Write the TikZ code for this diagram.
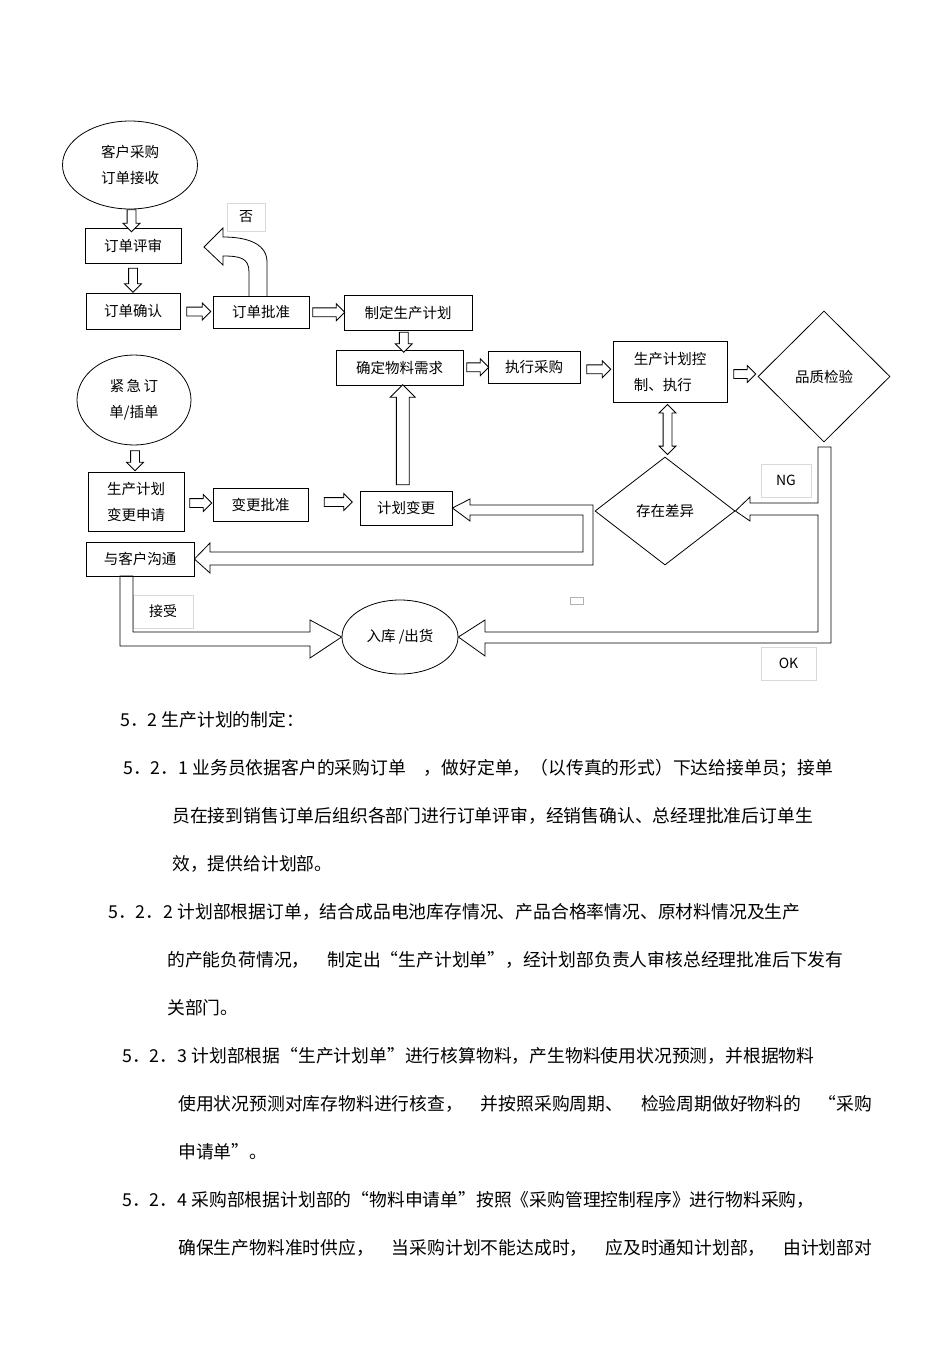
\documentclass[tikz,border=0pt]{standalone}
\usepackage{fontspec}
\newfontfamily\cjk{Noto Sans CJK SC}
\usetikzlibrary{shapes.geometric,shapes.arrows,calc}

\tikzset{
  box/.style={draw, rectangle, thick, inner sep=0pt, font=\cjk\fontsize{14.5}{26}\selectfont},
  oval/.style={draw, ellipse, thick, inner sep=0pt, align=center, font=\cjk\fontsize{14.5}{26}\selectfont},
  choice/.style={draw, diamond, thick, inner sep=0pt, font=\cjk\fontsize{14.5}{26}\selectfont},
  tag/.style={draw=black!15, rectangle, inner sep=0pt, font=\cjk\fontsize{14}{17}\selectfont},
  hollow/.style={draw, thick, fill=white, single arrow, inner sep=4pt, single arrow head extend=4pt, minimum width=0pt},
  para/.style={anchor=west, inner sep=0pt, font=\cjk\fontsize{17.8}{20}\selectfont}
}

\begin{document}
\begin{tikzpicture}[x=1pt,y=-1pt]
  \useasboundingbox (0,0) rectangle (950,1345);

  % upper branch
  \node[oval, minimum width=135, minimum height=88] (recv) at (130,165) {客户采购\\订单接收};
  \node[box, minimum width=96, minimum height=35] (review) at (133,245.5) {订单评审};
  \node[box, minimum width=94, minimum height=36] (confirm) at (133,311) {订单确认};
  \node[box, minimum width=96, minimum height=32] (approve) at (261,312) {订单批准};
  \node[box, minimum width=128, minimum height=35] (plan) at (408,312.5) {制定生产计划};
  \node[box, minimum width=127, minimum height=35] (need) at (399.5,367.5) {确定物料需求};
  \node[box, minimum width=92, minimum height=32] (buy) at (534,367) {执行采购};
  \node[box, minimum width=114, minimum height=61, align=left] (ctrl) at (670,371.5) {生产计划控\\制、执行};
  \node[choice, minimum width=132, minimum height=131] (qc) at (824,376.5) {品质检验};
  \node[choice, minimum width=140, minimum height=108] (diff) at (665,511) {存在差异};

  % lower branch
  \node[oval, minimum width=114, minimum height=90] (rush) at (134,400) {紧\,急\,订\\单/插单};
  \node[box, minimum width=96, minimum height=59, align=left] (apply) at (136,501.5) {生产计划\\变更申请};
  \node[box, minimum width=95, minimum height=33] (okchg) at (260.5,504.5) {变更批准};
  \node[box, minimum width=92, minimum height=34] (chg) at (406,508) {计划变更};
  \node[box, minimum width=108, minimum height=34] (talk) at (140,559) {与客户沟通};
  \node[oval, minimum width=116, minimum height=74] (store) at (400,637) {入库 /出货};

  % labels
  \node[tag, minimum width=38, minimum height=28] (no) at (246,217) {否};
  \node[tag, minimum width=50, minimum height=33] (ng) at (786,480.5) {NG};
  \node[tag, minimum width=55, minimum height=33] (ok) at (788.5,663.5) {OK};
  \node[tag, minimum width=60, minimum height=33] (take) at (163,611.5) {接受};
  \node[draw=black!30, minimum width=13, minimum height=7, inner sep=0pt] (dot) at (576.5,600.5) {};

  % straight arrows
  \node[hollow, rotate=-90, minimum height=22] (a1) at ($(recv.south)!0.5!(review.north)$) {};
  \node[hollow, rotate=-90, minimum height=24] (a2) at ($(review.south)!0.5!(confirm.north)$) {};
  \node[hollow, minimum height=24] (a3) at ($(confirm.east)!0.5!(approve.west)$) {};
  \node[hollow, minimum height=32] (a4) at ($(approve.east)!0.5!(plan.west)$) {};
  \node[hollow, rotate=-90, minimum height=20] (a5) at ($(plan.south)!0.5!(need.north)$) {};
  \node[hollow, minimum height=22] (a6) at ($(need.east)!0.5!(buy.west)$) {};
  \node[hollow, minimum height=24] (a7) at ($(buy.east)!0.5!(ctrl.west)$) {};
  \node[hollow, minimum height=22] (a8) at ($(ctrl.east)!0.5!(qc.west)$) {};
  \node[draw, thick, double arrow, rotate=90, minimum height=50, inner sep=4pt, double arrow head extend=4pt, minimum width=0pt] (a9) at ($(ctrl.south)!0.5!(diff.north)$) {};
  \node[hollow, rotate=-90, minimum height=20] (a10) at ($(rush.south)!0.5!(apply.north)$) {};
  \node[hollow, minimum height=22] (a11) at ($(apply.east)!0.5!(okchg.west)$) {};
  \node[hollow, minimum height=28] (a12) at (336,502) {};
  \node[hollow, rotate=90, minimum height=100, inner sep=6pt, single arrow head extend=6pt] (a13) at ($(chg.north)!0.5!(need.south)$) {};

  % bent arrows
  \draw[thick] (249,296) -- (249,272) .. controls (249,258) and (240,256) .. (223,256) -- (223,265) -- (204,247)
    -- (223,228) -- (223,237) .. controls (250,237) and (267,245) .. (267,262) -- (267,296);
  \draw[thick] (818,447) -- (831,447) -- (831,643) -- (485,643) -- (485,656) -- (store.east) -- (485,620) -- (485,632)
    -- (818,632) -- (818,515) -- (750,515) -- (750,521) -- (diff.east) -- (750,497) -- (750,503) -- (818,503) -- cycle;
  \draw[thick] (593,505) -- (593,565) -- (210,565) -- (210,573) -- (talk.east) -- (210,543) -- (210,552) -- (583,552)
    -- (583,515) -- (470,515) -- (470,521) -- (chg.east) -- (470,499) -- (470,505) -- cycle;
  \draw[thick] (120,576) -- (133,576) -- (133,632) -- (310,632) -- (310,620) -- (store.west) -- (310,658)
    -- (310,646) -- (120,646) -- cycle;

  % text below
  \node[para] (t1) at (120,720) {5．2 生产计划的制定：};
  \node[para] (t2) at (123,768) {5．2．1 业务员依据客户的采购订单　，做好定单，（以传真的形式）下达给接单员；接单};
  \node[para] (t3) at (172,816) {员在接到销售订单后组织各部门进行订单评审，经销售确认、总经理批准后订单生};
  \node[para] (t4) at (172,864) {效，提供给计划部。};
  \node[para] (t5) at (108,912) {5．2．2 计划部根据订单，结合成品电池库存情况、产品合格率情况、原材料情况及生产};
  \node[para] (t6) at (167,960) {的产能负荷情况，　制定出“生产计划单”，经计划部负责人审核总经理批准后下发有};
  \node[para] (t7) at (167,1008) {关部门。};
  \node[para] (t8) at (122,1056) {5．2．3 计划部根据“生产计划单”进行核算物料，产生物料使用状况预测，并根据物料};
  \node[para] (t9) at (178,1104) {使用状况预测对库存物料进行核查，　并按照采购周期、　检验周期做好物料的　“采购};
  \node[para] (t10) at (178,1152) {申请单”。};
  \node[para] (t11) at (122,1200) {5．2．4 采购部根据计划部的“物料申请单”按照《采购管理控制程序》进行物料采购，};
  \node[para] (t12) at (178,1248) {确保生产物料准时供应，　当采购计划不能达成时，　应及时通知计划部，　由计划部对};
\end{tikzpicture}
\end{document}
